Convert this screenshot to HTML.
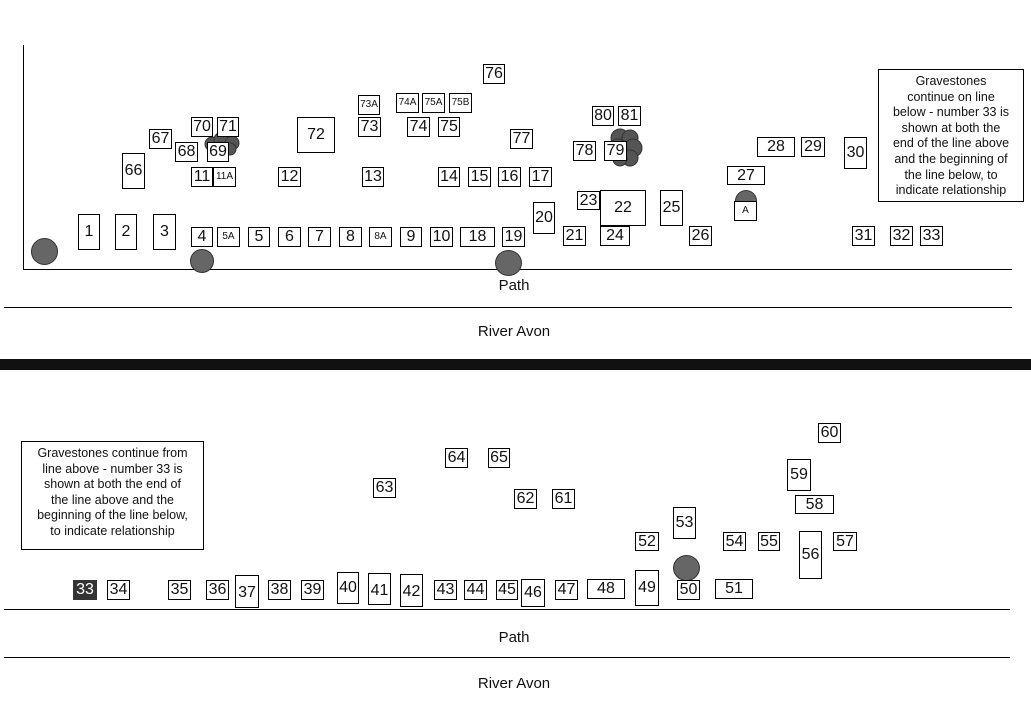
<!DOCTYPE html>
<html><head><meta charset="utf-8"><style>
html,body{margin:0;padding:0;background:#fff;}
body{width:1031px;height:713px;position:relative;overflow:hidden;font-family:"Liberation Sans",Arial,sans-serif;color:#111;}
.b{position:absolute;box-sizing:border-box;border:1px solid #000;background:#fff;display:flex;align-items:center;justify-content:center;font-size:16px;line-height:1;}
.s{font-size:10px;}
.l{position:absolute;background:#000;}
.c{position:absolute;border-radius:50%;background:#666;border:1px solid #333;box-sizing:border-box;}
.t{position:absolute;font-size:15px;transform:translateX(-50%);white-space:nowrap;}
.note{position:absolute;box-sizing:border-box;border:1px solid #000;background:#fff;font-size:12.5px;line-height:15.6px;text-align:center;}
</style></head><body>
<!-- top section frame -->
<div class="l" style="left:23px;top:45px;width:1px;height:225px"></div>
<div class="l" style="left:23px;top:269px;width:989px;height:1px"></div>
<div class="l" style="left:4px;top:307px;width:1008px;height:1px"></div>
<div class="t" style="left:514px;top:277px">Path</div>
<div class="t" style="left:514px;top:323px">River Avon</div>
<div class="l" style="left:0;top:359px;width:1031px;height:11px;background:#111"></div>

<div class="c" style="left:31px;top:238px;width:27px;height:27px"></div>
<div class="c" style="left:190px;top:249px;width:24px;height:24px"></div>
<div class="c" style="left:495px;top:250px;width:27px;height:26px"></div>

<!-- bushes -->
<svg style="position:absolute;left:200px;top:130px" width="45" height="30"><g fill="#555" stroke="#333"><circle cx="12" cy="14" r="7"/><circle cx="22" cy="10" r="8"/><circle cx="32" cy="13" r="7"/><circle cx="20" cy="19" r="7"/><circle cx="30" cy="19" r="6"/></g></svg>
<svg style="position:absolute;left:602px;top:124px" width="42" height="46"><g fill="#555" stroke="#333"><circle cx="18" cy="14" r="9"/><circle cx="28" cy="14" r="8"/><circle cx="31" cy="24" r="9"/><circle cx="28" cy="34" r="8"/><circle cx="18" cy="35" r="7"/><circle cx="16" cy="24" r="9"/></g></svg>

<div class="b" style="left:78px;top:214px;width:22px;height:36px">1</div>
<div class="b" style="left:115px;top:214px;width:22px;height:36px">2</div>
<div class="b" style="left:153px;top:214px;width:23px;height:36px">3</div>
<div class="b" style="left:191px;top:227px;width:22px;height:20px">4</div>
<div class="b s" style="left:217px;top:227px;width:23px;height:20px">5A</div>
<div class="b" style="left:248px;top:227px;width:22px;height:20px">5</div>
<div class="b" style="left:278px;top:227px;width:23px;height:20px">6</div>
<div class="b" style="left:308px;top:227px;width:23px;height:20px">7</div>
<div class="b" style="left:339px;top:227px;width:23px;height:20px">8</div>
<div class="b s" style="left:369px;top:227px;width:23px;height:20px">8A</div>
<div class="b" style="left:400px;top:227px;width:22px;height:20px">9</div>
<div class="b" style="left:430px;top:227px;width:23px;height:20px">10</div>
<div class="b" style="left:460px;top:227px;width:35px;height:20px">18</div>
<div class="b" style="left:502px;top:227px;width:23px;height:20px">19</div>
<div class="b" style="left:191px;top:167px;width:22px;height:20px">11</div>
<div class="b s" style="left:213px;top:167px;width:23px;height:20px">11A</div>
<div class="b" style="left:278px;top:167px;width:23px;height:20px">12</div>
<div class="b" style="left:362px;top:167px;width:22px;height:20px">13</div>
<div class="b" style="left:438px;top:167px;width:22px;height:20px">14</div>
<div class="b" style="left:468px;top:167px;width:23px;height:20px">15</div>
<div class="b" style="left:498px;top:167px;width:23px;height:20px">16</div>
<div class="b" style="left:529px;top:167px;width:23px;height:20px">17</div>
<div class="b" style="left:122px;top:153px;width:23px;height:36px">66</div>
<div class="b" style="left:149px;top:129px;width:23px;height:20px">67</div>
<div class="b" style="left:175px;top:142px;width:23px;height:20px">68</div>
<div class="b" style="left:207px;top:142px;width:22px;height:20px">69</div>
<div class="b" style="left:191px;top:117px;width:22px;height:20px">70</div>
<div class="b" style="left:217px;top:117px;width:22px;height:20px">71</div>
<div class="b" style="left:297px;top:117px;width:38px;height:36px">72</div>
<div class="b s" style="left:358px;top:95px;width:22px;height:20px">73A</div>
<div class="b" style="left:358px;top:117px;width:23px;height:20px">73</div>
<div class="b s" style="left:396px;top:93px;width:23px;height:20px">74A</div>
<div class="b s" style="left:422px;top:93px;width:23px;height:20px">75A</div>
<div class="b s" style="left:449px;top:93px;width:23px;height:20px">75B</div>
<div class="b" style="left:407px;top:117px;width:23px;height:20px">74</div>
<div class="b" style="left:438px;top:117px;width:22px;height:20px">75</div>
<div class="b" style="left:483px;top:64px;width:22px;height:20px">76</div>
<div class="b" style="left:510px;top:129px;width:23px;height:20px">77</div>
<div class="b" style="left:592px;top:106px;width:22px;height:20px">80</div>
<div class="b" style="left:618px;top:106px;width:23px;height:20px">81</div>
<div class="b" style="left:573px;top:141px;width:23px;height:20px">78</div>
<div class="b" style="left:604px;top:141px;width:23px;height:20px">79</div>
<div class="b" style="left:533px;top:202px;width:22px;height:32px">20</div>
<div class="b" style="left:600px;top:190px;width:46px;height:36px">22</div>
<div class="b" style="left:577px;top:191px;width:23px;height:19px">23</div>
<div class="b" style="left:563px;top:226px;width:23px;height:20px">21</div>
<div class="b" style="left:600px;top:226px;width:30px;height:20px">24</div>
<div class="b" style="left:660px;top:190px;width:23px;height:36px">25</div>
<div class="b" style="left:689px;top:226px;width:23px;height:20px">26</div>
<div class="b" style="left:727px;top:166px;width:38px;height:19px">27</div>
<div style="position:absolute;left:735px;top:190px;width:22px;height:11px;border-radius:11px 11px 0 0;background:#666;border:1px solid #333;border-bottom:none;box-sizing:border-box"></div>
<div class="b s" style="left:734px;top:201px;width:23px;height:20px">A</div>
<div class="b" style="left:757px;top:137px;width:38px;height:20px">28</div>
<div class="b" style="left:801px;top:137px;width:24px;height:20px">29</div>
<div class="b" style="left:844px;top:137px;width:23px;height:32px">30</div>
<div class="b" style="left:852px;top:226px;width:23px;height:20px">31</div>
<div class="b" style="left:890px;top:226px;width:23px;height:20px">32</div>
<div class="b" style="left:920px;top:226px;width:23px;height:20px">33</div>
<div class="note" style="left:878px;top:69px;width:146px;height:133px;padding-top:4px">Gravestones<br>continue on line<br>below - number 33 is<br>shown at both the<br>end of the line above<br>and the beginning of<br>the line below, to<br>indicate relationship</div>

<!-- bottom section -->
<div class="note" style="left:21px;top:441px;width:183px;height:109px;padding-top:4px">Gravestones continue from<br>line above - number 33 is<br>shown at both the end of<br>the line above and the<br>beginning of the line below,<br>to indicate relationship</div>
<div class="l" style="left:4px;top:609px;width:1006px;height:1px"></div>
<div class="l" style="left:4px;top:657px;width:1006px;height:1px"></div>
<div class="t" style="left:514px;top:629px">Path</div>
<div class="t" style="left:514px;top:675px">River Avon</div>

<div class="b" style="left:73px;top:580px;width:24px;height:20px;background:#333;color:#fff;border-color:#333">33</div>
<div class="b" style="left:107px;top:580px;width:23px;height:20px">34</div>
<div class="b" style="left:168px;top:580px;width:23px;height:20px">35</div>
<div class="b" style="left:206px;top:580px;width:23px;height:20px">36</div>
<div class="b" style="left:235px;top:575px;width:24px;height:33px;padding-top:3px">37</div>
<div class="b" style="left:268px;top:580px;width:23px;height:20px">38</div>
<div class="b" style="left:301px;top:580px;width:23px;height:20px">39</div>
<div class="b" style="left:337px;top:572px;width:22px;height:32px">40</div>
<div class="b" style="left:368px;top:573px;width:23px;height:32px;padding-top:3px">41</div>
<div class="b" style="left:400px;top:574px;width:23px;height:33px;padding-top:3px">42</div>
<div class="b" style="left:434px;top:580px;width:23px;height:20px">43</div>
<div class="b" style="left:464px;top:580px;width:23px;height:20px">44</div>
<div class="b" style="left:496px;top:580px;width:22px;height:20px">45</div>
<div class="b" style="left:521px;top:579px;width:24px;height:28px">46</div>
<div class="b" style="left:555px;top:580px;width:23px;height:20px">47</div>
<div class="b" style="left:587px;top:579px;width:38px;height:20px">48</div>
<div class="b" style="left:635px;top:570px;width:24px;height:36px">49</div>
<div class="c" style="left:673px;top:555px;width:27px;height:26px"></div>
<div class="b" style="left:677px;top:580px;width:23px;height:20px">50</div>
<div class="b" style="left:715px;top:579px;width:38px;height:20px">51</div>
<div class="b" style="left:635px;top:532px;width:24px;height:19px">52</div>
<div class="b" style="left:673px;top:507px;width:23px;height:32px">53</div>
<div class="b" style="left:723px;top:532px;width:23px;height:19px">54</div>
<div class="b" style="left:758px;top:532px;width:22px;height:19px">55</div>
<div class="b" style="left:799px;top:531px;width:23px;height:48px">56</div>
<div class="b" style="left:833px;top:532px;width:24px;height:19px">57</div>
<div class="b" style="left:795px;top:495px;width:39px;height:19px">58</div>
<div class="b" style="left:787px;top:459px;width:24px;height:32px">59</div>
<div class="b" style="left:818px;top:423px;width:23px;height:20px">60</div>
<div class="b" style="left:514px;top:489px;width:23px;height:20px">62</div>
<div class="b" style="left:552px;top:489px;width:23px;height:20px">61</div>
<div class="b" style="left:373px;top:478px;width:23px;height:20px">63</div>
<div class="b" style="left:445px;top:448px;width:23px;height:20px">64</div>
<div class="b" style="left:488px;top:448px;width:22px;height:20px">65</div>
</body></html>
